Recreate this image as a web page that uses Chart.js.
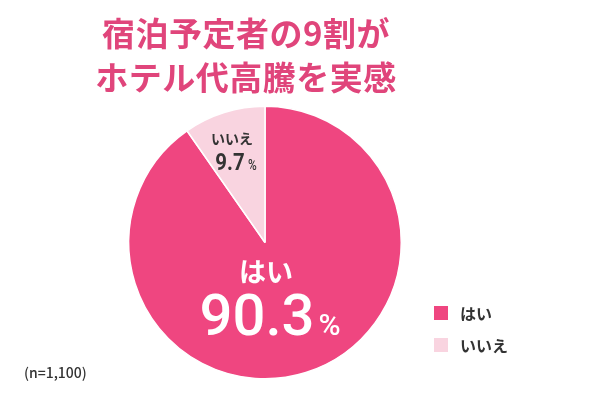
<!DOCTYPE html>
<html lang="ja">
<head>
<meta charset="utf-8">
<script src="https://cdn.jsdelivr.net/npm/chart.js@4"></script>
<style>
  html, body { margin: 0; padding: 0; background: #fff; }
  #wrap { width: 600px; height: 400px; position: relative; }
</style>
</head>
<body>
<div id="wrap"><canvas id="pieChart"></canvas></div>
<script>
const labels = ['はい', 'いいえ'];
const values = [90.3, 9.7];
const colors = ['#ef4680', '#f9d4e0'];
const titleLines = ['宿泊予定者の9割が', 'ホテル代高騰を実感'];
const sampleNote = '(n=1,100)';

const JP = '"Noto Sans CJK JP", "Noto Sans", sans-serif';

// draws title, slice labels, legend and note on the canvas
const overlay = {
  id: 'overlay',
  afterDraw(chart) {
    const ctx = chart.ctx;
    const meta = chart.getDatasetMeta(0);
    ctx.save();

    ctx.fillStyle = '#e0457b';
    ctx.font = `bold 33px ${JP}`;
    ctx.textAlign = 'center';
    ctx.textBaseline = 'middle';
    ctx.letterSpacing = '0.5px';
    ctx.fillText(titleLines[0], 246, 33);
    ctx.fillText(titleLines[1], 246, 77);
    ctx.letterSpacing = '0px';

    // big slice label
    const big = meta.data[0];
    ctx.fillStyle = '#fff';
    ctx.font = `bold 27px ${JP}`;
    ctx.fillText(labels[0], big.x + 1, big.y + 29);
    drawValue(ctx, values[0], big.x + 5, big.y + 92, 58, 30, '#fff', 1);

    // small slice label
    ctx.fillStyle = '#333';
    ctx.font = `bold 14px ${JP}`;
    ctx.fillText(labels[1], big.x - 33, big.y - 104);
    drawValue(ctx, values[1], big.x - 29, big.y - 73, 24, 14, '#333', 0.85);

    // legend
    ctx.textAlign = 'left';
    labels.forEach((lab, i) => {
      const y = 313 + i * 32;
      ctx.fillStyle = colors[i];
      ctx.fillRect(434, y - 7, 14, 14);
      ctx.fillStyle = '#333';
      ctx.font = `bold 16px ${JP}`;
      ctx.fillText(lab, 460, y + 1);
    });

    ctx.font = `500 14px ${JP}`;
    ctx.fillStyle = '#333';
    ctx.fillText(sampleNote, 24, 373);
    ctx.restore();
  }
};

function drawValue(ctx, v, cx, cy, size, pctSize, color, sx) {
  const num = v.toFixed(1);
  const weight = sx < 1 ? 'bold' : '500';
  ctx.save();
  ctx.translate(cx, cy);
  ctx.scale(sx, 1);
  ctx.font = `${weight} ${size}px Roboto, sans-serif`;
  const w1 = ctx.measureText(num).width;
  ctx.font = `500 ${pctSize}px Roboto, sans-serif`;
  const w2 = ctx.measureText('%').width;
  const start = -(w1 + w2 + 4) / 2;
  ctx.fillStyle = color;
  ctx.textAlign = 'left';
  ctx.textBaseline = 'alphabetic';
  ctx.font = `${weight} ${size}px Roboto, sans-serif`;
  ctx.fillText(num, start, 0);
  ctx.font = `500 ${pctSize}px Roboto, sans-serif`;
  ctx.fillText('%', start + w1 + 4, 0);
  ctx.restore();
}

new Chart(document.getElementById('pieChart'), {
  type: 'pie',
  data: {
    labels: labels,
    datasets: [{
      data: values,
      backgroundColor: colors,
      borderColor: '#fff',
      borderWidth: 1.5,
      hoverOffset: 0,
    }],
  },
  options: {
    responsive: true,
    maintainAspectRatio: false,
    animation: false,
    layout: {
      padding: { top: 105, bottom: 20, left: 128, right: 198 },
    },
    plugins: {
      legend: { display: false },
      tooltip: { enabled: false },
    },
  },
  plugins: [overlay],
});
</script>
</body>
</html>
